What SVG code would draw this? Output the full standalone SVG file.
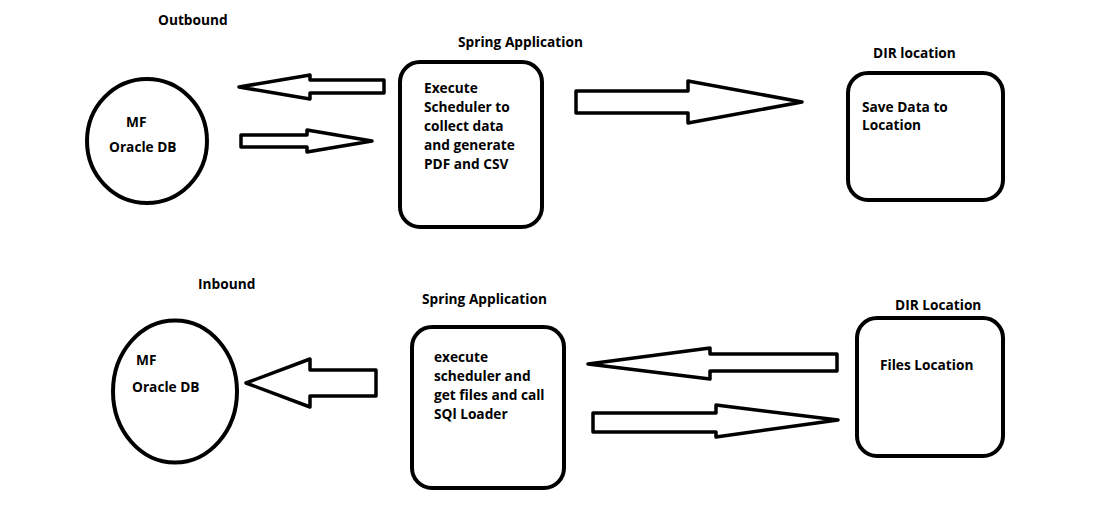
<svg xmlns="http://www.w3.org/2000/svg" width="1108" height="527" viewBox="0 0 1108 527">
<style>
.t{font-family:"Open Sans","Noto Sans","Liberation Sans",sans-serif;font-weight:bold;font-size:13.7px;fill:#000}
.n{fill:none;stroke:#000;stroke-width:4}
.a{fill:#fff;stroke:#000;stroke-width:3.5;stroke-linejoin:round}
</style>
<rect width="1108" height="527" fill="#fff"/>
<text class="t" x="158" y="25">Outbound</text>
<text class="t" x="198" y="289">Inbound</text>
<g id="db-out">
<ellipse class="n" cx="147" cy="141" rx="60" ry="62"/>
<text class="t" x="126" y="127">MF</text>
<text class="t" x="109" y="152">Oracle DB</text>
</g>
<g id="spring-out">
<text class="t" x="458" y="47">Spring Application</text>
<rect class="n" x="400" y="62" width="142" height="165" rx="20"/>
<text class="t" x="424" y="93">Execute</text>
<text class="t" x="424" y="112">Scheduler to</text>
<text class="t" x="424" y="131">collect data</text>
<text class="t" x="424" y="150">and generate</text>
<text class="t" x="424" y="169">PDF and CSV</text>
</g>
<g id="dir-out">
<text class="t" x="873" y="58">DIR location</text>
<rect class="n" x="848" y="73" width="155" height="127" rx="20"/>
<text class="t" x="862" y="112">Save Data to</text>
<text class="t" x="862" y="130">Location</text>
</g>
<g id="db-in">
<ellipse class="n" cx="175" cy="391.5" rx="62" ry="71"/>
<text class="t" x="136" y="365">MF</text>
<text class="t" x="132" y="392">Oracle DB</text>
</g>
<g id="spring-in">
<text class="t" x="422" y="304">Spring Application</text>
<rect class="n" x="412" y="327" width="152" height="161" rx="20"/>
<text class="t" x="434" y="362">execute</text>
<text class="t" x="434" y="381">scheduler and</text>
<text class="t" x="434" y="400">get files and call</text>
<text class="t" x="434" y="419">SQl Loader</text>
</g>
<g id="dir-in">
<text class="t" x="895" y="310">DIR Location</text>
<rect class="n" x="857" y="318" width="146" height="138" rx="20"/>
<text class="t" x="880" y="370">Files Location</text>
</g>
<g id="connectors">
<polygon class="a" points="384,80 310,80 310,75 239,87 310,99 310,93 384,93"/>
<polygon class="a" points="241,135 307,135 307,130 372,141 307,152 307,147 241,147"/>
<polygon class="a" points="576,91 688,91 688,81 802,102 688,123 688,113 576,113"/>
<polygon class="a" points="376,370 310,370 310,359 246,383 310,407 310,396 376,396"/>
<polygon class="a" points="837,354 710,354 710,348 588,364 710,379 710,371 837,371"/>
<polygon class="a" points="593,413 716,413 716,405 838,420 716,437 716,432 593,432"/>
</g>
</svg>
